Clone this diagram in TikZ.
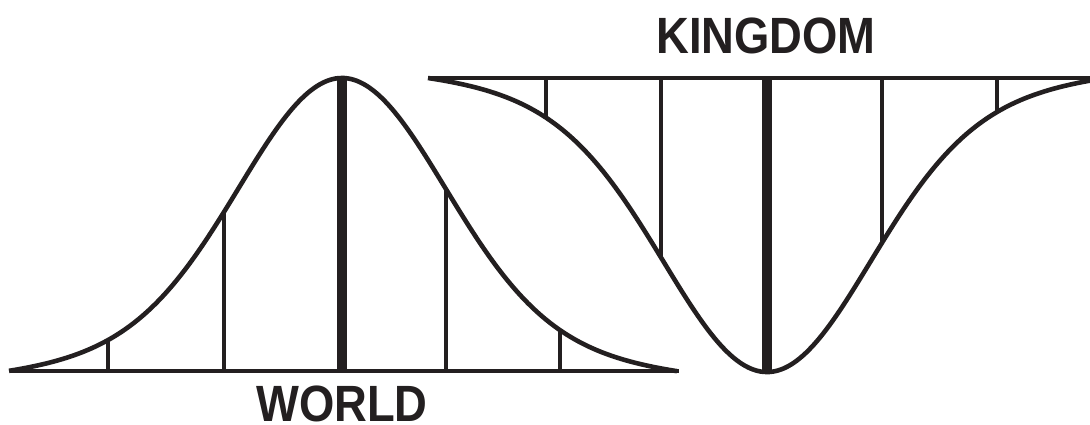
\documentclass[tikz,border=0pt]{standalone}
\usepackage{fontspec}
\usepackage{graphicx}
\newfontfamily\labfont{Liberation Sans}
\definecolor{ink}{HTML}{231F20}
\tikzset{
  curveline/.style={draw=ink, line width=4.6pt, line join=round},
  baseline/.style={draw=ink, line width=4pt},
  thinv/.style={draw=ink, line width=3.4pt},
  thickv/.style={draw=ink, line width=10pt},
  label/.style={inner sep=0pt, anchor=base, text=ink, text depth=0pt, text height=37pt,
    font=\labfont\bfseries\fontsize{51}{51}\selectfont}
}
\begin{document}
\begin{tikzpicture}[x=1pt,y=-1pt,
  declare function={
    mixb(\d)=0.8*exp(-0.5*(\d/100)^2)+0.2*exp(-0.5*(\d/200)^2);
    bell(\d)=(mixb(\d)-mixb(334))/(1-mixb(334));
    bellr(\d)=(mixb(\d)-mixb(339))/(1-mixb(339));
  }]
\useasboundingbox (0,0) rectangle (1090,424);
% ---------- WORLD bell curve ----------
\foreach \vx in {108,224,446,560}
  \draw[thinv] (\vx,371) -- (\vx,{371-293*bell(\vx-342)});
\draw[thickv] (342,371) -- (342,80);
\draw[baseline] (10,371) -- (679,371);
\draw[curveline] plot[domain=9:677, samples=220, smooth]
  (\x,{371-293*bell(\x-342)});
% ---------- KINGDOM inverted curve ----------
\foreach \vx in {546,661,882,997}
  \draw[thinv] (\vx,78) -- (\vx,{78+294*bellr(\vx-767)});
\draw[thickv] (767,78) -- (767,370);
\draw[baseline] (428,78) -- (1090,78);
\draw[curveline] plot[domain=428:1090, samples=220, smooth]
  (\x,{78+294*bellr(\x-767)});
% ---------- labels ----------
\node[label] (world) at (342,421) {\scalebox{0.89}[1]{WORLD}};
\node[label] (kingdom) at (766,53) {\scalebox{0.89}[1]{KINGDOM}};
\end{tikzpicture}
\end{document}
